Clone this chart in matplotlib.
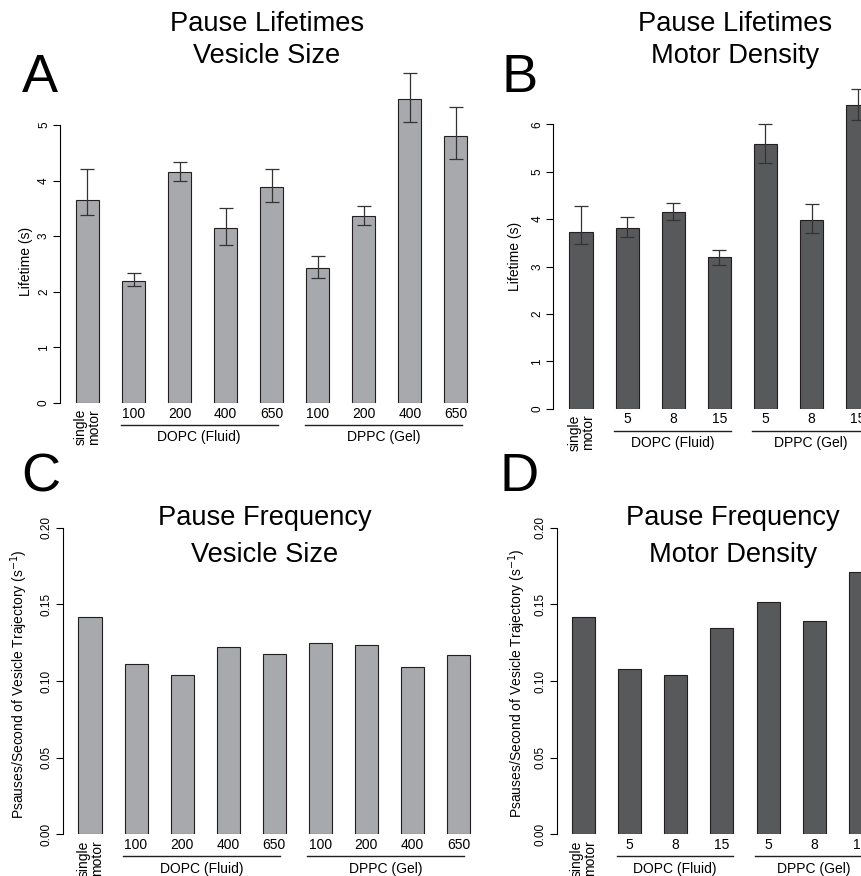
import matplotlib
matplotlib.use("Agg")
import matplotlib.pyplot as plt
from matplotlib.transforms import blended_transform_factory
from matplotlib.lines import Line2D

plt.rcParams['font.family'] = ['Liberation Sans', 'DejaVu Sans']

# ---------------- data ----------------
size_labels = ["single\nmotor", "100", "200", "400", "650", "100", "200", "400", "650"]
density_labels = ["single\nmotor", "5", "8", "15", "5", "8", "15"]

size_groups = [("DOPC (Fluid)", 1, 4), ("DPPC (Gel)", 5, 8)]
density_groups = [("DOPC (Fluid)", 1, 3), ("DPPC (Gel)", 4, 6)]

# Panel A: pause lifetimes vs vesicle size (s)
life_size = [3.65, 2.20, 4.15, 3.14, 3.88, 2.43, 3.37, 5.46, 4.81]
life_size_hi = [4.21, 2.33, 4.33, 3.51, 4.20, 2.65, 3.55, 5.94, 5.33]
life_size_lo = [3.39, 2.11, 3.99, 2.85, 3.62, 2.25, 3.21, 5.05, 4.38]

# Panel B: pause lifetimes vs motor density (s)
life_dens = [3.73, 3.82, 4.16, 3.19, 5.58, 3.98, 6.41]
life_dens_hi = [4.28, 4.04, 4.33, 3.34, 6.01, 4.31, 6.74]
life_dens_lo = [3.47, 3.62, 3.99, 3.03, 5.19, 3.70, 6.09]

# Panel C: pause frequency vs vesicle size (1/s)
freq_size = [0.1415, 0.1110, 0.1039, 0.1219, 0.1174, 0.1247, 0.1234, 0.1089, 0.1169]
# Panel D: pause frequency vs motor density (1/s)
freq_dens = [0.1415, 0.1076, 0.1039, 0.1345, 0.1517, 0.1390, 0.1708]

# ---------------- figure ----------------
W, H = 862, 876
fig = plt.figure(figsize=(W / 100, H / 100), dpi=100)

LIGHT = "#a7a9ac"
DARK = "#58595b"


def fy(py):
    return 1 - py / H


def fx(px):
    return px / W


def make_axes(left_px, zero_px, ppu, ytop, first_px, spacing_px, xmax):
    xmin = (left_px - first_px) / spacing_px
    right_px = first_px + xmax * spacing_px
    top_px = zero_px - ytop * ppu
    ax = fig.add_axes([fx(left_px), fy(zero_px), (right_px - left_px) / W, (zero_px - top_px) / H])
    ax.set_xlim(xmin, xmax)
    ax.set_ylim(0, ytop)
    for s in ("top", "right", "bottom"):
        ax.spines[s].set_visible(False)
    ax.spines["left"].set_linewidth(0.8)
    ax.set_xticks([])
    ax.patch.set_alpha(0)
    ax.tick_params(axis="y", direction="out", length=5, width=0.8, pad=2.2,
                   labelsize=8.5, labelrotation=90)
    return ax, zero_px


def draw_panel(ax, zero_px, values, color, labels, groups, line_end, hi=None, lo=None):
    xs = list(range(len(values)))
    ax.bar(xs, values, width=0.5, color=color, edgecolor="#231f20", linewidth=0.8, zorder=2)
    if hi is not None:
        yerr = [[v - l for v, l in zip(values, lo)], [h - v for v, h in zip(values, hi)]]
        ax.errorbar(xs, values, yerr=yerr, fmt="none", ecolor="#333333",
                    elinewidth=0.9, capsize=4.7, capthick=0.9, zorder=3)
    for i, lab in enumerate(labels):
        if "\n" in lab:
            ax.annotate(lab, xy=(i, 0), xycoords="data", xytext=(0, -6),
                        textcoords="offset pixels", rotation=90, ha="center", va="top",
                        multialignment="right", fontsize=10, linespacing=0.95,
                        annotation_clip=False)
        else:
            ax.annotate(lab, xy=(i, 0), xycoords="data", xytext=(0, -10.5),
                        textcoords="offset pixels", ha="center", va="center",
                        fontsize=10, annotation_clip=False)
    tr = blended_transform_factory(ax.transData, fig.transFigure)
    for name, i0, i1 in groups:
        x0, x1 = i0 - 0.28, i1 + line_end
        ax.add_line(Line2D([x0, x1], [fy(zero_px + 22)] * 2, transform=tr,
                           color="#231f20", linewidth=1.0, clip_on=False))
        ax.text((x0 + x1) / 2, fy(zero_px + 34.5), name, transform=tr,
                ha="center", va="center", fontsize=10, clip_on=False)


# Panel A
axA, zA = make_axes(60, 403, 55.6, 6.2, 87.5, 46.06, 8.7)
axA.set_yticks([0, 1, 2, 3, 4, 5])
axA.spines["left"].set_bounds(0, 5)
draw_panel(axA, zA, life_size, LIGHT, size_labels, size_groups, 0.13, life_size_hi, life_size_lo)

# Panel B
axB, zB = make_axes(553.3, 408.7, 47.4, 7.2, 581, 46.1, 6.8)
axB.set_yticks([0, 1, 2, 3, 4, 5, 6])
axB.spines["left"].set_bounds(0, 6)
draw_panel(axB, zB, life_dens, DARK, density_labels, density_groups, 0.25, life_dens_hi, life_dens_lo)

# Panel C
axC, zC = make_axes(62.7, 834.3, 1533, 0.21, 90, 46.06, 8.7)
axC.set_yticks([0.0, 0.05, 0.10, 0.15, 0.20])
axC.set_yticklabels(["0.00", "0.05", "0.10", "0.15", "0.20"])
axC.spines["left"].set_bounds(0, 0.2)
draw_panel(axC, zC, freq_size, LIGHT, size_labels, size_groups, 0.13)

# Panel D
axD, zD = make_axes(556.7, 834.3, 1533, 0.21, 583.3, 46.2, 6.8)
axD.set_yticks([0.0, 0.05, 0.10, 0.15, 0.20])
axD.set_yticklabels(["0.00", "0.05", "0.10", "0.15", "0.20"])
axD.spines["left"].set_bounds(0, 0.2)
draw_panel(axD, zD, freq_dens, DARK, density_labels, density_groups, 0.25)

for ax in (axA, axB, axC, axD):
    for lab in ax.get_yticklabels():
        lab.set_rotation(90)
        lab.set_va("center")

# y labels
fig.text(fx(26), fy(261), "Lifetime (s)", rotation=90, ha="center", va="center", fontsize=10)
fig.text(fx(515), fy(256), "Lifetime (s)", rotation=90, ha="center", va="center", fontsize=10)
ylab_f = "Psauses/Second of Vesicle Trajectory (s$^{-1}$)"
fig.text(fx(19), fy(684), ylab_f, rotation=90, ha="center", va="center", fontsize=10)
fig.text(fx(517), fy(683), ylab_f, rotation=90, ha="center", va="center", fontsize=10)

# titles
TS = 19.6
fig.text(fx(267), fy(31), "Pause Lifetimes", ha="center", va="baseline", fontsize=TS)
fig.text(fx(267), fy(63.3), "Vesicle Size", ha="center", va="baseline", fontsize=TS)
fig.text(fx(735), fy(31), "Pause Lifetimes", ha="center", va="baseline", fontsize=TS)
fig.text(fx(735), fy(63.3), "Motor Density", ha="center", va="baseline", fontsize=TS)
fig.text(fx(265), fy(525), "Pause Frequency", ha="center", va="baseline", fontsize=TS)
fig.text(fx(265), fy(561.7), "Vesicle Size", ha="center", va="baseline", fontsize=TS)
fig.text(fx(733), fy(525), "Pause Frequency", ha="center", va="baseline", fontsize=TS)
fig.text(fx(733), fy(561.7), "Motor Density", ha="center", va="baseline", fontsize=TS)

# panel letters
LS = 39
fig.text(fx(22), fy(91.7), "A", ha="left", va="baseline", fontsize=LS)
fig.text(fx(502), fy(91.7), "B", ha="left", va="baseline", fontsize=LS)
fig.text(fx(21), fy(491.5), "C", ha="left", va="baseline", fontsize=LS)
fig.text(fx(500), fy(491), "D", ha="left", va="baseline", fontsize=LS)

fig.savefig("out.png", dpi=100)
